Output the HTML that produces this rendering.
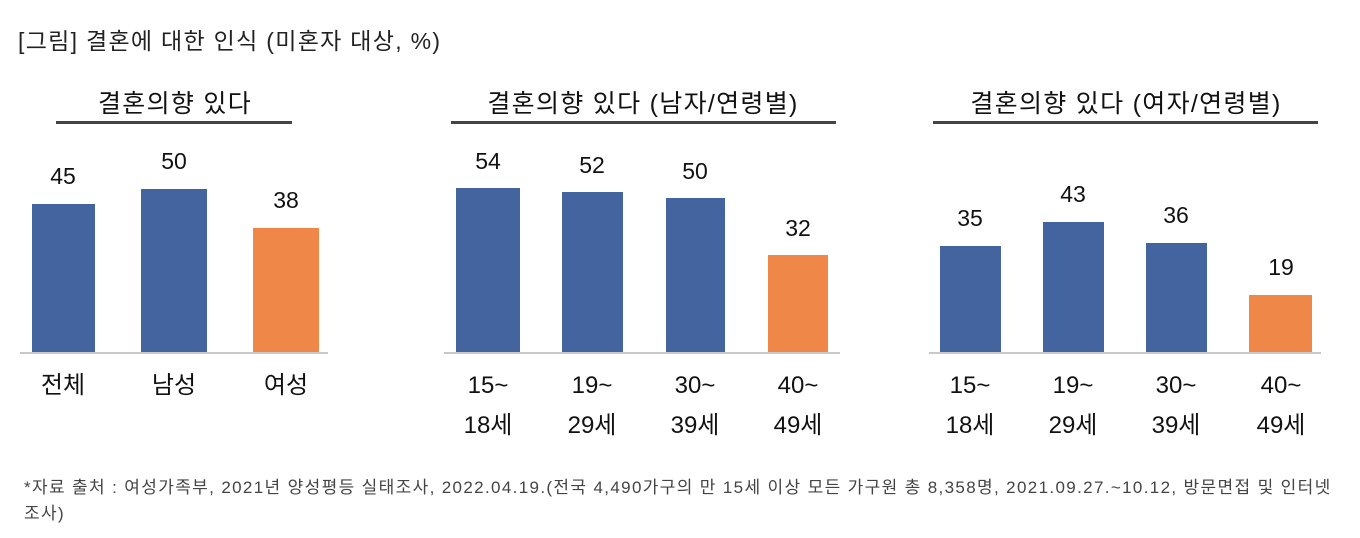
<!DOCTYPE html>
<html><head><meta charset="utf-8"><style>
body{margin:0;width:1360px;height:538px;background:#fff;position:relative;overflow:hidden;font-family:"Liberation Sans","Noto Sans CJK KR",sans-serif;color:#111}
div{position:absolute}
.t{font-size:25px;letter-spacing:1.3px;white-space:nowrap;text-align:center;transform:translateX(-50%)}
.v{font-size:23px;text-align:center;transform:translateX(-50%)}
.c{font-size:24px;text-align:center;transform:translateX(-50%);line-height:40px;white-space:nowrap}
.b{background:#43649e}.o{background:#ef8748}
.ul{height:3px;background:#444;top:121px}
.bl{height:2px;background:#c8c8c8;top:352px}
</style></head><body>
<div style="left:18px;top:22px;font-size:23px;letter-spacing:1.3px;color:#222;white-space:nowrap">[그림] 결혼에 대한 인식 (미혼자 대상, %)</div>

<div class="t" style="left:175px;top:84px">결혼의향 있다</div>
<div class="ul" style="left:56px;width:236px"></div>
<div class="b" style="left:32px;top:204px;width:63px;height:148px"></div>
<div class="b" style="left:141px;top:189px;width:66px;height:163px"></div>
<div class="o" style="left:253px;top:228px;width:66px;height:124px"></div>
<div class="bl" style="left:20px;width:308px"></div>
<div class="v" style="left:63px;top:163px">45</div>
<div class="v" style="left:174px;top:148px">50</div>
<div class="v" style="left:286px;top:187px">38</div>
<div class="c" style="left:63px;top:366px">전체</div>
<div class="c" style="left:174px;top:366px">남성</div>
<div class="c" style="left:286px;top:366px">여성</div>

<div class="t" style="left:643px;top:84px">결혼의향 있다 (남자/연령별)</div>
<div class="ul" style="left:451px;width:385px"></div>
<div class="b" style="left:456px;top:188px;width:64px;height:164px"></div>
<div class="b" style="left:562px;top:192px;width:61px;height:160px"></div>
<div class="b" style="left:666px;top:198px;width:59px;height:154px"></div>
<div class="o" style="left:768px;top:255px;width:60px;height:97px"></div>
<div class="bl" style="left:444px;width:396px"></div>
<div class="v" style="left:488px;top:148px">54</div>
<div class="v" style="left:592px;top:152px">52</div>
<div class="v" style="left:695px;top:158px">50</div>
<div class="v" style="left:798px;top:215px">32</div>
<div class="c" style="left:488px;top:366px">15~<br>18세</div>
<div class="c" style="left:592px;top:366px">19~<br>29세</div>
<div class="c" style="left:695px;top:366px">30~<br>39세</div>
<div class="c" style="left:798px;top:366px">40~<br>49세</div>

<div class="t" style="left:1126px;top:84px">결혼의향 있다 (여자/연령별)</div>
<div class="ul" style="left:933px;width:385px"></div>
<div class="b" style="left:940px;top:246px;width:61px;height:106px"></div>
<div class="b" style="left:1043px;top:222px;width:61px;height:130px"></div>
<div class="b" style="left:1146px;top:243px;width:61px;height:109px"></div>
<div class="o" style="left:1249px;top:295px;width:63px;height:57px"></div>
<div class="bl" style="left:929px;width:392px"></div>
<div class="v" style="left:970px;top:205px">35</div>
<div class="v" style="left:1073px;top:181px">43</div>
<div class="v" style="left:1176px;top:202px">36</div>
<div class="v" style="left:1281px;top:254px">19</div>
<div class="c" style="left:970px;top:366px">15~<br>18세</div>
<div class="c" style="left:1073px;top:366px">19~<br>29세</div>
<div class="c" style="left:1176px;top:366px">30~<br>39세</div>
<div class="c" style="left:1281px;top:366px">40~<br>49세</div>

<div style="left:24px;top:475px;font-size:17px;letter-spacing:1.35px;color:#444;line-height:26px;width:1336px;white-space:nowrap">*자료 출처 : 여성가족부, 2021년 양성평등 실태조사, 2022.04.19.(전국 4,490가구의 만 15세 이상 모든 가구원 총 8,358명, 2021.09.27.~10.12, 방문면접 및 인터넷<br>조사)</div>
</body></html>
